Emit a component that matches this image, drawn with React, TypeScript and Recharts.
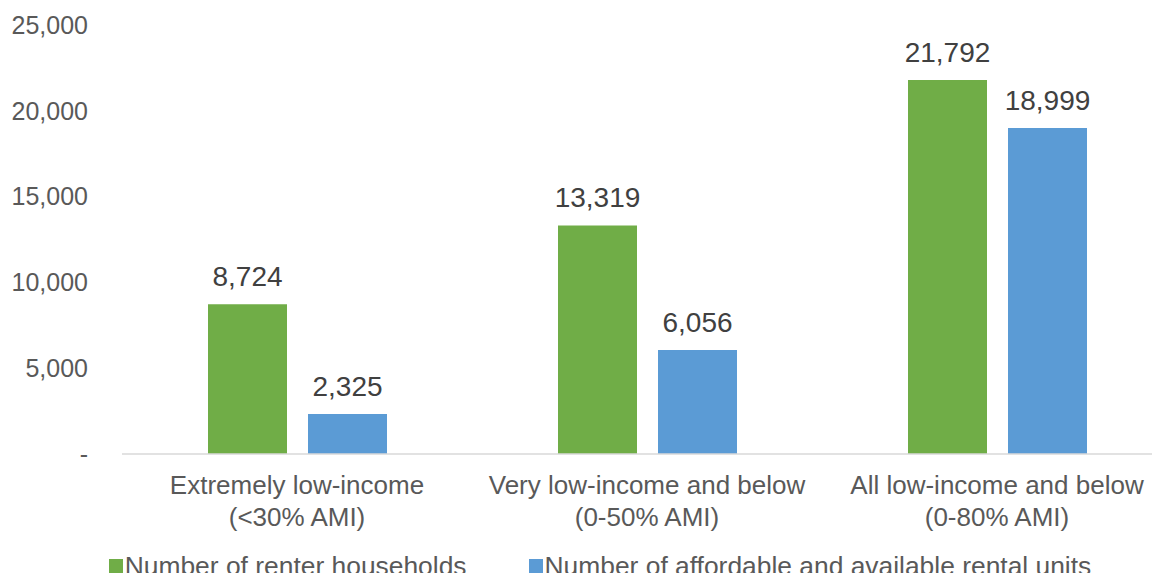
import React from 'react';
import { BarChart, Bar, XAxis, YAxis, Legend, LabelList } from 'recharts';

const categories = ['Extremely low-income|(<30% AMI)', 'Very low-income and below|(0-50% AMI)', 'All low-income and below|(0-80% AMI)'];
const renterHouseholds = [8724, 13319, 21792];
const affordableUnits = [2325, 6056, 18999];
const yTicks = [0, 5000, 10000, 15000, 20000, 25000];
const seriesNames = ['Number of renter households', 'Number of affordable and available rental units'];

const GREEN = '#70AD47';
const BLUE = '#5B9BD5';
const FONT = '"Liberation Sans", Arial, sans-serif';

const data = categories.map((name, i) => ({
  name,
  renters: renterHouseholds[i],
  units: affordableUnits[i],
}));

const fmt = (v: number) => (v === 0 ? '-' : v.toLocaleString('en-US'));

const CategoryTick = (props: any) => {
  const { x, y, payload } = props;
  const lines = String(payload.value).split('|');
  return (
    <text x={x} y={y} textAnchor="middle" fill="#595959" fontSize={26} fontFamily={FONT}>
      {lines.map((line, i) => (
        <tspan key={i} x={x} dy={32}>
          {line}
        </tspan>
      ))}
    </text>
  );
};

// keep the legend in series order (recharts sorts by name otherwise)
const LegendContent = (props: any) => {
  const items = [...props.payload].sort((a: any, b: any) => seriesNames.indexOf(a.value) - seriesNames.indexOf(b.value));
  return (
    <div style={{ display: 'flex', justifyContent: 'center', gap: 62, paddingLeft: 28, fontFamily: FONT, fontSize: 26.4, color: '#595959', lineHeight: '28px' }}>
      {items.map((entry: any, i: number) => (
        <div key={i} style={{ display: 'flex', alignItems: 'center' }}>
          <span style={{ display: 'inline-block', width: 14, height: 14, background: entry.color, marginRight: 2 }} />
          <span>{entry.value}</span>
        </div>
      ))}
    </div>
  );
};

const App: React.FC = () => {
  return (
    <div style={{ margin: -8, width: 1160, height: 581, overflow: 'hidden', position: 'relative' }}>
      <BarChart
        width={1172}
        height={581}
        data={data}
        margin={{ top: 25, right: 0, bottom: 0, left: 0 }}
        barGap={21}
        barSize={79}
      >
        <XAxis
          dataKey="name"
          tick={<CategoryTick />}
          tickLine={false}
          axisLine={{ stroke: '#D9D9D9', strokeWidth: 1.5 }}
          height={99}
          interval={0}
        />
        <YAxis
          width={122}
          domain={[0, 25000]}
          ticks={yTicks}
          tickFormatter={fmt}
          tickLine={false}
          axisLine={false}
          tickMargin={28}
          tick={{ fill: '#595959', fontSize: 25, fontFamily: FONT }}
        />
        <Legend verticalAlign="bottom" content={<LegendContent />} wrapperStyle={{ bottom: 1 }} />
        <Bar dataKey="renters" name={seriesNames[0]} fill={GREEN} isAnimationActive={false}>
          <LabelList dataKey="renters" position="top" offset={18} formatter={(v: any) => fmt(Number(v))} fill="#404040" fontSize={28} fontFamily={FONT} />
        </Bar>
        <Bar dataKey="units" name={seriesNames[1]} fill={BLUE} isAnimationActive={false}>
          <LabelList dataKey="units" position="top" offset={18} formatter={(v: any) => fmt(Number(v))} fill="#404040" fontSize={28} fontFamily={FONT} />
        </Bar>
      </BarChart>
    </div>
  );
};

export default App;
